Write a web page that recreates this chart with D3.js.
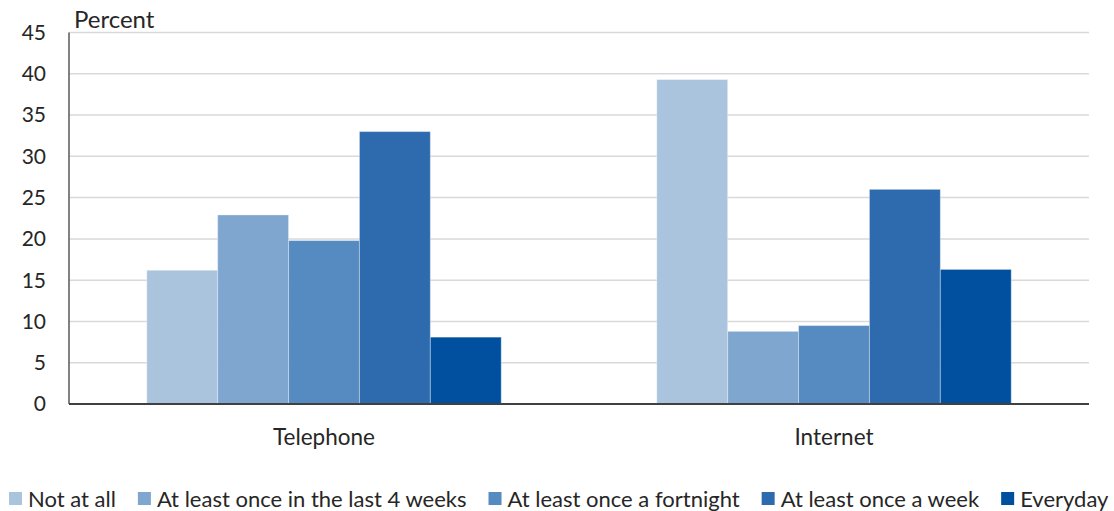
<!DOCTYPE html>
<html>
<head>
    <script src="https://cdnjs.cloudflare.com/ajax/libs/d3/7.8.5/d3.min.js"></script>
    <style>
        body { margin: 0; background: #fff; }
        text { font-family: Lato, "Open Sans", sans-serif; fill: #262626; }
        .grid line { stroke: #d9d9d9; stroke-width: 1.5px; }
    </style>
</head>
<body>
    <div id="chart"></div>
    <script>
        // Data
        const categories = ["Telephone", "Internet"];
        const series = ["Not at all", "At least once in the last 4 weeks", "At least once a fortnight", "At least once a week", "Everyday"];
        const telephone = [16.2, 22.9, 19.8, 33.0, 8.1];
        const internet = [39.3, 8.8, 9.5, 26.0, 16.3];
        const yTicks = [0, 5, 10, 15, 20, 25, 30, 35, 40, 45];
        const colors = ["#abc4de", "#7fa6cf", "#568bc1", "#2d6bae", "#00509f"];

        const values = { Telephone: telephone, Internet: internet };

        const width = 1114, height = 511;
        const margin = { top: 32.5, right: 25, bottom: 107, left: 69 };

        const svg = d3.select("#chart").append("svg")
            .attr("width", width)
            .attr("height", height);

        const x0 = d3.scaleBand()
            .domain(categories)
            .range([margin.left, width - margin.right])
            .paddingInner(0.305)
            .paddingOuter(0.1525);

        const x1 = d3.scaleBand()
            .domain(series)
            .range([0, x0.bandwidth()]);

        const y = d3.scaleLinear()
            .domain([0, 45])
            .range([height - margin.bottom, margin.top]);

        const color = d3.scaleOrdinal().domain(series).range(colors);

        // gridlines
        svg.append("g").attr("class", "grid")
            .selectAll("line")
            .data(yTicks.filter(d => d > 0))
            .join("line")
            .attr("x1", margin.left)
            .attr("x2", width - margin.right)
            .attr("y1", d => y(d))
            .attr("y2", d => y(d));

        // y tick labels
        svg.append("g")
            .selectAll("text")
            .data(yTicks)
            .join("text")
            .attr("x", 46)
            .attr("y", d => y(d))
            .attr("dy", "0.35em")
            .attr("text-anchor", "end")
            .style("font-size", "21px")
            .text(d => d);

        // bars
        const groups = svg.append("g")
            .selectAll("g")
            .data(categories)
            .join("g")
            .attr("transform", d => `translate(${x0(d)},0)`);

        groups.selectAll("rect")
            .data(c => series.map((s, i) => ({ s, v: values[c][i] })))
            .join("rect")
            .attr("x", d => x1(d.s))
            .attr("width", x1.bandwidth())
            .attr("y", d => y(d.v))
            .attr("height", d => y(0) - y(d.v))
            .attr("fill", d => color(d.s))
            .attr("stroke", "rgba(255,255,255,0.35)")
            .attr("stroke-width", 1);

        // axes lines
        svg.append("line")
            .attr("x1", margin.left).attr("x2", margin.left)
            .attr("y1", margin.top).attr("y2", y(0))
            .attr("stroke", "#595959").attr("stroke-width", 1.5);
        svg.append("line")
            .attr("x1", margin.left).attr("x2", width - margin.right)
            .attr("y1", y(0)).attr("y2", y(0))
            .attr("stroke", "#404040").attr("stroke-width", 2);

        // category labels
        svg.append("g")
            .selectAll("text")
            .data(categories)
            .join("text")
            .attr("x", d => x0(d) + x0.bandwidth() / 2)
            .attr("y", 445)
            .attr("text-anchor", "middle")
            .style("font-size", "22.5px")
            .text(d => d);

        // y title
        svg.append("text")
            .attr("x", 74)
            .attr("y", 28)
            .style("font-size", "24px")
            .text("Percent");

        // legend
        const legend = svg.append("g");
        let lx = 9;
        series.forEach((s, i) => {
            legend.append("rect")
                .attr("x", lx).attr("y", 492)
                .attr("width", 13).attr("height", 13)
                .attr("fill", colors[i]);
            const t = legend.append("text")
                .attr("x", lx + 19).attr("y", 507)
                .style("font-size", "22px")
                .text(s);
            lx += 19 + t.node().getComputedTextLength() + 22;
        });
    </script>
</body>
</html>
